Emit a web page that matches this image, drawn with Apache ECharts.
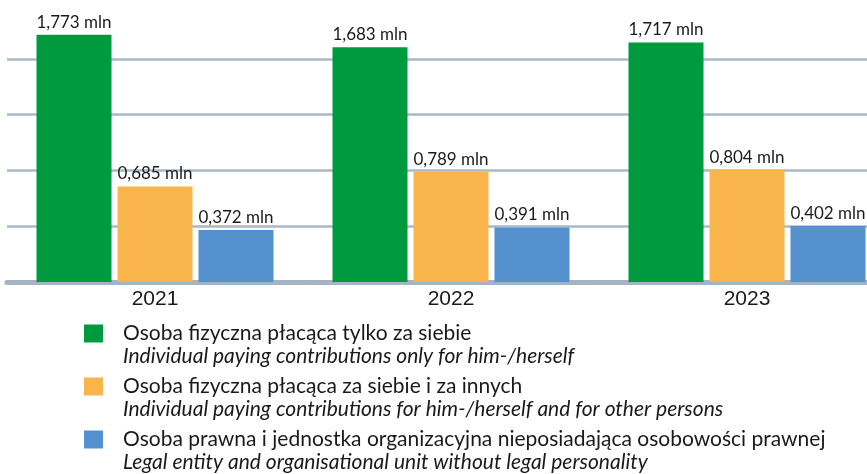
<!DOCTYPE html>
<html>
<head>
<meta charset="utf-8">
<script src="https://cdn.jsdelivr.net/npm/echarts@6/dist/echarts.min.js"></script>
<style>
html,body{margin:0;padding:0;background:#fff;}
#chart{width:867px;height:474px;}
</style>
</head>
<body>
<div id="chart"></div>
<script>
var years = ['2021', '2022', '2023'];
var seriesNames = [
    'Osoba fizyczna płacąca tylko za siebie',
    'Osoba fizyczna płacąca za siebie i za innych',
    'Osoba prawna i jednostka organizacyjna nieposiadająca osobowości prawnej'
];
var seriesNamesEn = [
    'Individual paying contributions only for him-/herself',
    'Individual paying contributions for him-/herself and for other persons',
    'Legal entity and organisational unit without legal personality'
];
var onlySelf = [1.773, 1.683, 1.717];
var selfAndOthers = [0.685, 0.789, 0.804];
var legalEntity = [0.372, 0.391, 0.402];
var colors = ['#009a3e', '#f9b44c', '#5591cf'];

var chart = echarts.init(document.getElementById('chart'));

function fmt(p) {
    return p.value.toFixed(3).replace('.', ',') + ' mln';
}

function makeSeries(i, data) {
    return {
        name: seriesNames[i],
        type: 'bar',
        data: data,
        barWidth: 75,
        barGap: '8%',
        itemStyle: {color: colors[i]},
        label: {
            show: true, position: 'top', distance: 4,
            formatter: fmt,
            fontFamily: 'Lato', fontSize: 17, color: '#1a1a1a'
        }
    };
}

var rich = {
    pl: {fontFamily: 'Lato', fontSize: 21, color: '#1a1a1a', lineHeight: 23},
    en: {fontFamily: 'Lato', fontSize: 21, fontStyle: 'italic', color: '#1a1a1a', lineHeight: 23},
    sp: {width: 39, height: 18}
};
colors.forEach(function (c, i) {
    rich['b' + i] = {width: 19, height: 18, backgroundColor: c};
    rich['g' + i] = {width: 20, height: 18};
});

var option = {
    animation: false,
    grid: {left: 7, width: 888, top: 3, bottom: 192, outerBoundsMode: 'none', containLabel: false},
    legend: {
        orient: 'vertical',
        left: 74, top: 318, height: 300,
        icon: 'none', itemWidth: 0, itemGap: 9,
        selectedMode: false,
        data: seriesNames,
        formatter: function (name) {
            var i = seriesNames.indexOf(name);
            return '{b' + i + '|}{g' + i + '|}{pl|' + name + '}\n{sp|}{en|' + seriesNamesEn[i] + '}';
        },
        textStyle: {rich: rich}
    },
    xAxis: {
        type: 'category',
        data: years,
        axisTick: {show: false},
        axisLine: {lineStyle: {color: '#a5b4c4', width: 5}},
        axisLabel: {fontFamily: 'Liberation Sans', fontSize: 21, color: '#1a1a1a', margin: 7}
    },
    yAxis: {
        type: 'value',
        min: 0, max: 2.0, interval: 0.4,
        axisLabel: {show: false},
        axisLine: {show: false},
        axisTick: {show: false},
        splitLine: {
            show: true, showMinLine: false, showMaxLine: false,
            lineStyle: {color: '#a9b9c9', width: 2.5}
        }
    },
    series: [
        makeSeries(0, onlySelf),
        makeSeries(1, selfAndOthers),
        makeSeries(2, legalEntity)
    ]
};

chart.setOption(option);
</script>
</body>
</html>
